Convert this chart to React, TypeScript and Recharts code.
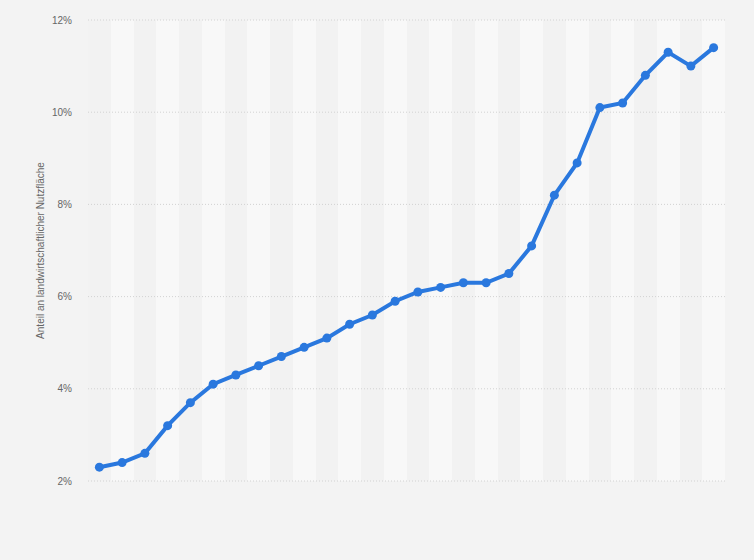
import { CartesianGrid, Line, LineChart, XAxis, YAxis } from "recharts";

// values (share of agricultural area, %)
const years = [
  1990, 1991, 1992, 1993, 1994, 1995, 1996, 1997, 1998, 1999, 2000, 2001, 2002, 2003,
  2004, 2005, 2006, 2007, 2008, 2009, 2010, 2011, 2012, 2013, 2014, 2015, 2016, 2017,
];
const share = [
  2.3, 2.4, 2.6, 3.2, 3.7, 4.1, 4.3, 4.5, 4.7, 4.9, 5.1, 5.4, 5.6, 5.9,
  6.1, 6.2, 6.3, 6.3, 6.5, 7.1, 8.2, 8.9, 10.1, 10.2, 10.8, 11.3, 11.0, 11.4,
];
const yTicks = [2, 4, 6, 8, 10, 12];

const data = years.map((year, i) => ({ idx: i, year, value: share[i] }));
const bandEdges = years.map((_, i) => i - 0.5).concat(years.length - 0.5);

const font = "'Liberation Sans', Arial, sans-serif";

export default function App() {
  return (
    <div style={{ position: "absolute", left: 0, top: 0, width: 754, height: 560, background: "#f3f3f3" }}>
      <LineChart width={754} height={560} data={data} margin={{ top: 20, right: 29, left: 0, bottom: 79 }}>
        <CartesianGrid horizontal={false} vertical stroke="none" verticalFill={["#f2f2f2", "#f8f8f8"]} />
        <CartesianGrid vertical={false} stroke="#d2d2d2" strokeDasharray="1 2" />
        <XAxis
          type="number"
          dataKey="idx"
          domain={[-0.5, years.length - 0.5]}
          ticks={bandEdges}
          interval={0}
          hide
        />
        <YAxis
          domain={[2, 12]}
          ticks={yTicks}
          width={88}
          axisLine={false}
          tickLine={false}
          tickSize={0}
          tickMargin={16}
          tickFormatter={(v: number) => `${v}%`}
          tick={{ fontSize: 10, fill: "#666", fontFamily: font }}
          label={{
            value: "Anteil an landwirtschaftlicher Nutzfläche",
            angle: -90,
            position: "center",
            dx: -4,
            style: { fontSize: 10, fill: "#666", fontFamily: font },
          }}
        />
        <Line
          type="linear"
          dataKey="value"
          stroke="#2a78de"
          strokeWidth={4}
          dot={{ r: 4.5, fill: "#2a78de", stroke: "#2a78de", strokeWidth: 0 }}
          isAnimationActive={false}
        />
      </LineChart>
    </div>
  );
}
